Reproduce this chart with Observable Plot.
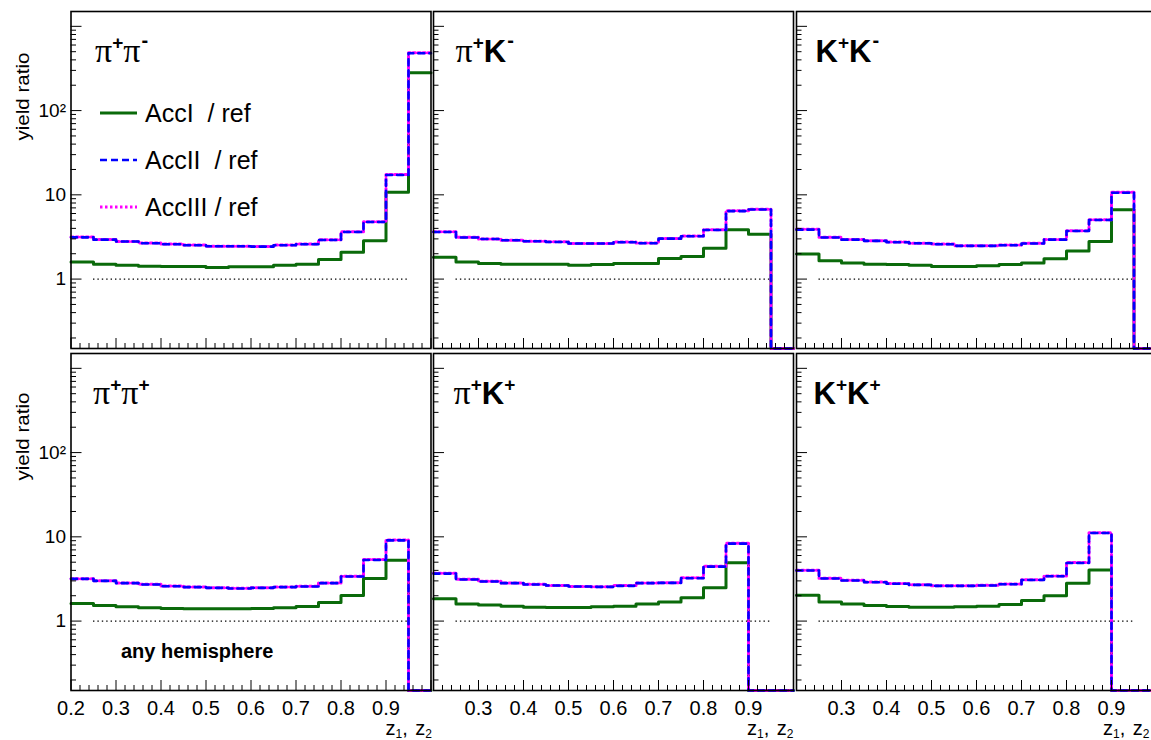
<!DOCTYPE html>
<html><head><meta charset="utf-8">
<script src="https://cdn.jsdelivr.net/npm/d3@7"></script>
<script src="https://cdn.jsdelivr.net/npm/@observablehq/plot@0.6"></script>
<style>
html,body{margin:0;padding:0;background:#fff;overflow:hidden;}
#chart{position:relative;width:1151px;height:740px;overflow:hidden;background:#fff;}
#chart svg{position:absolute;overflow:visible;}
</style></head><body><div id="chart"></div>
<script>
// ---------- data ----------
const Z_EDGES = [0.20,0.25,0.30,0.35,0.40,0.45,0.50,0.55,0.60,0.65,0.70,0.75,0.80,0.85,0.90,0.95];
const Z_MAX = 1.0;
const SERIES = ["AccI  / ref", "AccII  / ref", "AccIII / ref"];
const PANEL_NAMES = ["π+π-", "π+K-", "K+K-", "π+π+", "π+K+", "K+K+"];

const PIPI_M_I   = [1.60,1.50,1.46,1.42,1.41,1.41,1.37,1.40,1.40,1.46,1.50,1.71,2.08,2.86,10.7,281];
const PIPI_M_II  = [3.13,2.94,2.79,2.66,2.59,2.52,2.45,2.45,2.43,2.52,2.59,2.91,3.62,4.76,17.2,480];
const PIPI_M_III = [3.16,2.96,2.80,2.68,2.60,2.53,2.46,2.46,2.44,2.53,2.61,2.93,3.65,4.80,17.4,485];

const PIK_M_I    = [1.82,1.59,1.53,1.50,1.50,1.50,1.46,1.49,1.53,1.53,1.75,1.85,2.32,3.86,3.40,0];
const PIK_M_II   = [3.62,3.11,2.99,2.89,2.81,2.76,2.64,2.64,2.74,2.66,3.02,3.22,3.83,6.41,6.71,0];
const PIK_M_III  = [3.65,3.13,3.00,2.90,2.82,2.77,2.65,2.65,2.75,2.68,3.04,3.24,3.86,6.46,6.76,0];

const KK_M_I     = [1.99,1.65,1.55,1.50,1.49,1.46,1.41,1.41,1.44,1.49,1.55,1.74,2.16,2.79,6.65,0];
const KK_M_II    = [3.86,3.11,2.94,2.84,2.74,2.66,2.59,2.48,2.48,2.52,2.64,2.94,3.72,5.02,10.6,0];
const KK_M_III   = [3.90,3.13,2.96,2.85,2.75,2.67,2.60,2.49,2.49,2.54,2.66,2.96,3.75,5.07,10.7,0];

const PIPI_P_I   = [1.62,1.53,1.48,1.44,1.41,1.40,1.40,1.40,1.41,1.44,1.49,1.66,2.01,3.20,5.27,0];
const PIPI_P_II  = [3.17,3.00,2.82,2.72,2.59,2.53,2.48,2.44,2.48,2.53,2.57,2.82,3.38,5.32,9.09,0];
const PIPI_P_III = [3.19,3.02,2.84,2.73,2.60,2.54,2.49,2.45,2.49,2.54,2.59,2.84,3.41,5.37,9.18,0];

const PIK_P_I    = [1.84,1.60,1.55,1.50,1.46,1.45,1.45,1.48,1.50,1.60,1.68,1.89,2.48,4.94,0,0];
const PIK_P_II   = [3.66,3.11,2.95,2.82,2.72,2.64,2.57,2.55,2.62,2.82,2.84,3.23,4.43,8.30,0,0];
const PIK_P_III  = [3.69,3.13,2.97,2.83,2.73,2.65,2.58,2.56,2.64,2.84,2.86,3.26,4.47,8.38,0,0];

const KK_P_I     = [2.03,1.68,1.60,1.53,1.49,1.46,1.46,1.48,1.50,1.57,1.76,2.00,2.82,4.05,0,0];
const KK_P_II    = [3.98,3.20,3.03,2.89,2.77,2.69,2.62,2.62,2.64,2.74,3.08,3.41,4.90,11.1,0,0];
const KK_P_III   = [4.02,3.22,3.05,2.91,2.79,2.70,2.63,2.63,2.66,2.76,3.10,3.44,4.95,11.2,0,0];

const PANEL_VALUES = [
  [PIPI_M_I, PIPI_M_II, PIPI_M_III],
  [PIK_M_I,  PIK_M_II,  PIK_M_III],
  [KK_M_I,   KK_M_II,   KK_M_III],
  [PIPI_P_I, PIPI_P_II, PIPI_P_III],
  [PIK_P_I,  PIK_P_II,  PIK_P_III],
  [KK_P_I,   KK_P_II,   KK_P_III]
];

const Y_DOMAIN = [0.15, 1500];
const X_DOMAIN = [0.2, 1.0];
const Y_LABEL_TICKS = [1, 10, 100];
const Y_LABEL_TEXT = ["1", "10", "10²"];
const Y_MAJOR = [1, 10, 100, 1000];
const Y_MINOR = [0.2,0.3,0.4,0.5,0.6,0.7,0.8,0.9, 2,3,4,5,6,7,8,9, 20,30,40,50,60,70,80,90, 200,300,400,500,600,700,800,900];
const X_MAJOR = [0.2,0.3,0.4,0.5,0.6,0.7,0.8,0.9,1.0];
const X_MINOR = d3.range(0.22, 0.999, 0.02).filter(v => Math.abs(v*10 - Math.round(v*10)) > 1e-6);
const X_LABELS_FIRST = [0.2,0.3,0.4,0.5,0.6,0.7,0.8,0.9];
const X_LABELS_OTHER = [0.3,0.4,0.5,0.6,0.7,0.8,0.9];
const REF_LINE = {y: 1, x1: 0.25, x2: 0.95};
const Y_TITLE = "yield ratio";
const X_TITLE = "z1, z2";
const NOTE = "any hemisphere";

// ---------- styles / layout ----------
const FONT = "'Liberation Sans', Arial, Helvetica, sans-serif";
const COLORS = ["#0a6a0a", "#0000ff", "#ff00ff"];
const PLOT_W = 360, PLOT_H = 337;
const COL_LEFT = [70.5, 433, 796];
const ROW_TOP = [11, 353];
const LABEL_DX = [[24, 22, 19], [22, 20, 17]];
const XTITLE_DX = [1, 0, -7];

const chart = document.getElementById("chart");

function rich(textEl, parts) {
  const t = d3.select(textEl);
  t.text(null);
  let rise = 0;
  for (const p of parts) {
    const ts = t.append("tspan").text(p.t);
    const r = p.rise || 0;
    if (r !== rise) ts.attr("dy", rise - r);
    rise = r;
    if (p.size) ts.attr("font-size", p.size);
    if (p.family) ts.attr("font-family", p.family);
    if (p.weight) ts.attr("font-weight", p.weight);
    if (p.dx) ts.attr("dx", p.dx);
  }
}

function labelParts(name) {
  return [...name].map(ch => {
    if (ch === "π") return {t: "π", family: "'Liberation Serif', 'DejaVu Serif', serif", size: 34, weight: "normal"};
    if (ch === "K") return {t: "K", weight: "bold", size: 31};
    if (ch === "+") return {t: "+", size: 19, weight: "bold", rise: 13};
    return {t: "-", size: 20, weight: "bold", rise: 15, dx: 1};
  });
}

PANEL_VALUES.forEach((vals, p) => {
  const row = Math.floor(p / 3), col = p % 3;
  const ML = col === 0 ? COL_LEFT[0] : 2;
  const MT = row === 0 ? ROW_TOP[0] : 3;
  const MB = row === 0 ? 3 : 50;
  const MR = 2;

  const lines = [];
  vals.forEach((arr, s) => {
    Z_EDGES.forEach((z, i) => lines.push({s, z, v: arr[i]}));
    lines.push({s, z: Z_MAX, v: arr[arr.length - 1]});
  });
  const yv = d => Math.max(d.v, Y_DOMAIN[0]);

  const marks = [
    Plot.ruleY([REF_LINE], {y: "y", x1: "x1", x2: "x2", stroke: "black", strokeWidth: 1.3, strokeDasharray: "1.4,3"}),
    Plot.line(lines.filter(d => d.s === 0), {x: "z", y: yv, curve: "step-after", stroke: COLORS[0], strokeWidth: 3}),
    Plot.line(lines.filter(d => d.s === 2), {x: "z", y: yv, curve: "step-after", stroke: COLORS[2], strokeWidth: 3, strokeDasharray: "2.5,2.5"}),
    Plot.line(lines.filter(d => d.s === 1), {x: "z", y: yv, curve: "step-after", stroke: COLORS[1], strokeWidth: 2.6, strokeDasharray: "6,5"}),
    Plot.tickX(X_MAJOR, {x: d => d, insetTop: PLOT_H - 10, stroke: "black", strokeWidth: 1}),
    Plot.tickX(X_MINOR, {x: d => d, insetTop: PLOT_H - 5, stroke: "black", strokeWidth: 1}),
    Plot.tickY(Y_MAJOR, {y: d => d, insetRight: PLOT_W - 11, stroke: "black", strokeWidth: 1}),
    Plot.tickY(Y_MINOR, {y: d => d, insetRight: PLOT_W - 5.5, stroke: "black", strokeWidth: 1}),
    Plot.frame({stroke: "black", strokeWidth: 1.6}),
    Plot.text([PANEL_NAMES[p]], {text: d => d, frameAnchor: "top-left", textAnchor: "start", lineAnchor: "bottom",
      dx: LABEL_DX[row][col], dy: 50, fontSize: 31, className: "plabel"})
  ];
  if (row === 1) {
    marks.push(Plot.axisX(col === 0 ? X_LABELS_FIRST : X_LABELS_OTHER, {anchor: "bottom", tickSize: 0, tickPadding: 10,
      fontSize: 20, tickFormat: d3.format(".1f"), label: null}));
    marks.push(Plot.text([X_TITLE], {text: d => d, frameAnchor: "bottom-right", textAnchor: "end", lineAnchor: "bottom",
      dx: XTITLE_DX[col], dy: 44, fontSize: 20, className: "xtitle"}));
  }
  if (col === 0) {
    marks.push(Plot.axisY(Y_LABEL_TICKS, {anchor: "left", tickSize: 0, tickPadding: 5, fontSize: 19,
      tickFormat: d => Y_LABEL_TEXT[Y_LABEL_TICKS.indexOf(d)], label: null}));
    marks.push(Plot.text([Y_TITLE], {text: d => d, frameAnchor: "top-left", rotate: -90, textAnchor: "end", lineAnchor: "bottom",
      dx: -42, dy: row === 0 ? 41 : 39, fontSize: 19, className: "ytitle"}));
  }
  if (p === 3) {
    marks.push(Plot.text([NOTE], {text: d => d, frameAnchor: "top-left", textAnchor: "start", lineAnchor: "bottom",
      dx: 50, dy: 304, fontSize: 20, fontWeight: "bold"}));
  }

  const svg = Plot.plot({
    width: ML + PLOT_W + MR,
    height: MT + PLOT_H + MB,
    marginLeft: ML, marginRight: MR, marginTop: MT, marginBottom: MB,
    style: {background: "transparent", fontFamily: FONT, overflow: "visible", color: "black"},
    x: {type: "linear", domain: X_DOMAIN, axis: row === 1 ? undefined : null},
    y: {type: "log", domain: Y_DOMAIN, axis: col === 0 ? undefined : null},
    marks
  });
  svg.style.left = (COL_LEFT[col] - ML) + "px";
  svg.style.top = (ROW_TOP[row] - MT) + "px";
  svg.style.maxWidth = "none";
  chart.appendChild(svg);

  d3.select(svg).selectAll("g.plabel text").each(function() { rich(this, labelParts(PANEL_NAMES[p])); });
  d3.select(svg).selectAll("g.xtitle text").each(function() {
    rich(this, [{t: "z"}, {t: "1", size: 12, rise: -3}, {t: ", "}, {t: "z", dx: 2}, {t: "2", size: 12, rise: -3}]);
  });
  d3.select(svg).selectAll("g.ytitle text").attr("textLength", 88).attr("lengthAdjust", "spacingAndGlyphs");

  if (p === 0) {
    const g = d3.select(svg).append("g").attr("font-family", FONT).attr("text-anchor", "start");
    const rowsY = [113, 160, 207];
    const dashes = [null, "7,4", "2.5,2.5"];
    const widths = [3, 2.6, 3];
    SERIES.forEach((name, i) => {
      g.append("line").attr("x1", 100).attr("x2", 137).attr("y1", rowsY[i]).attr("y2", rowsY[i])
        .attr("stroke", COLORS[i]).attr("stroke-width", widths[i]).attr("stroke-dasharray", dashes[i]);
      g.append("text").attr("x", 145).attr("y", rowsY[i] + 9).attr("font-size", 25)
        .attr("text-anchor", "start").style("white-space", "pre").attr("fill", "black").text(name);
    });
  }
});
</script>
</body></html>
